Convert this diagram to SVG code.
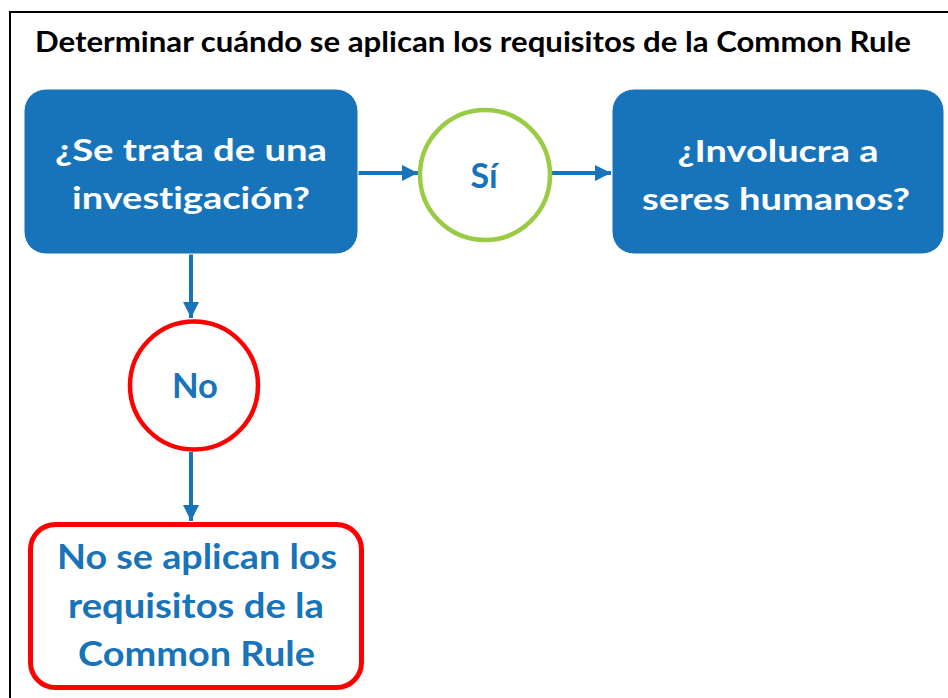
<svg xmlns="http://www.w3.org/2000/svg" width="948" height="698" viewBox="0 0 948 698">
<defs>
<style>
text{font-family:Lato,"Open Sans","Liberation Sans",sans-serif;font-weight:bold;text-anchor:middle;font-variant-ligatures:none}
.wt{fill:#ffffff;font-size:31px}
.bt{fill:#1874BA}
.conn{stroke:#1874BA;stroke-width:4;fill:none}
.box{fill:#1874BA;stroke:#ffffff;stroke-width:1}
</style>
<marker id="ah" viewBox="0 0 10 10" refX="10" refY="5" markerWidth="16" markerHeight="17" markerUnits="userSpaceOnUse" orient="auto">
<path d="M0,0 L10,5 L0,10 z" fill="#1874BA"/>
</marker>
</defs>
<rect x="0" y="0" width="948" height="698" fill="#ffffff"/>
<rect x="10" y="12" width="1000" height="1000" fill="none" stroke="#000000" stroke-width="2"/>
<text x="35" y="52" style="text-anchor:start;font-size:28px;fill:#000000" textLength="876" lengthAdjust="spacingAndGlyphs">Determinar cuándo se aplican los requisitos de la Common Rule</text>

<g id="connectors">
<line class="conn" x1="358" y1="173" x2="418" y2="173" marker-end="url(#ah)"/>
<line class="conn" x1="552" y1="173" x2="611" y2="173" marker-end="url(#ah)"/>
<line class="conn" x1="191" y1="254" x2="191" y2="318" marker-end="url(#ah)"/>
<line class="conn" x1="191" y1="452" x2="191" y2="521" marker-end="url(#ah)"/>
</g>

<g id="node-investigacion">
<rect class="box" x="24" y="89" width="334" height="165" rx="22"/>
<text class="wt" x="191" y="161" textLength="272" lengthAdjust="spacingAndGlyphs">¿Se trata de una</text>
<text class="wt" x="191" y="209" textLength="238" lengthAdjust="spacingAndGlyphs">investigación?</text>
</g>

<g id="node-si">
<circle cx="485" cy="175" r="65" fill="#ffffff" stroke="#9ACB45" stroke-width="4.5"/>
<text class="bt" x="484" y="188" style="font-size:34px">Sí</text>
</g>

<g id="node-humanos">
<rect class="box" x="612" y="89" width="332" height="165" rx="22"/>
<text class="wt" x="778" y="162" textLength="201" lengthAdjust="spacingAndGlyphs">¿Involucra a</text>
<text class="wt" x="776" y="210" textLength="268" lengthAdjust="spacingAndGlyphs">seres humanos?</text>
</g>

<g id="node-no">
<circle cx="194" cy="385.5" r="64" fill="#ffffff" stroke="#FF0000" stroke-width="4.5"/>
<text class="bt" x="195" y="398" style="font-size:35px" textLength="46" lengthAdjust="spacingAndGlyphs">No</text>
</g>

<g id="node-noaplica">
<rect x="30.5" y="524.5" width="331" height="163" rx="25" fill="#ffffff" stroke="#FF0000" stroke-width="5"/>
<text class="bt" x="197" y="569" style="font-size:35px" textLength="280" lengthAdjust="spacingAndGlyphs">No se aplican los</text>
<text class="bt" x="196" y="618" style="font-size:35px" textLength="256" lengthAdjust="spacingAndGlyphs">requisitos de la</text>
<text class="bt" x="196.5" y="666" style="font-size:35px" textLength="237" lengthAdjust="spacingAndGlyphs">Common Rule</text>
</g>
</svg>
